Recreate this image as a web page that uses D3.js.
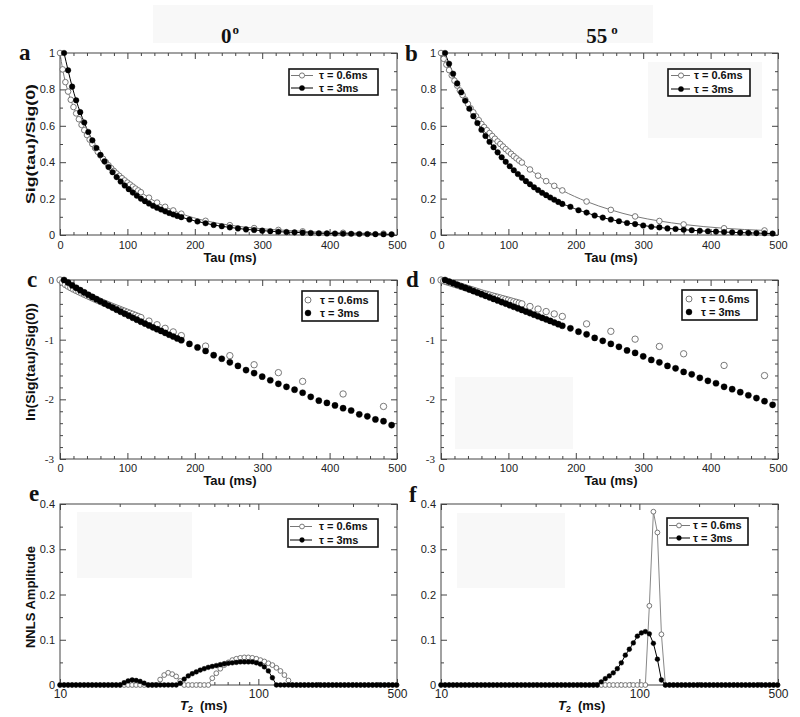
<!DOCTYPE html>
<html>
<head>
<meta charset="utf-8">
<script src="https://cdn.jsdelivr.net/npm/d3@7"></script>
<style>
  body { margin: 0; background: #fff; }
  svg { display: block; }
</style>
</head>
<body>
<script>
// echo times (ms) for the two inter-echo spacings
const tauOpen = [0,4,8,12,16,20,24,28,32,36,40,44,48,52,56,60,64,68,72,76,80,84,88,92,96,100,104,108,112,116,120,
  132,144,156,168,180,216,252,288,324,360,420,480];
const tauFilled = [6,12,18,24,30,36,42,48,54,60,66,72,78,84,90,96,102,108,114,120,126,132,138,144,150,156,162,168,174,180,
  192,204,216,228,240,252,264,276,288,300,312,324,336,348,360,372,384,396,408,420,432,444,456,468,480,492];

// Sig(tau)/Sig(0) at 0 degrees
const sig0Open = [1.0,0.91,0.84,0.788,0.743,0.703,0.668,0.636,0.605,0.576,0.549,0.524,0.5,0.478,0.457,0.437,0.418,0.4,0.383,0.367,
  0.352,0.338,0.325,0.312,0.3,0.288,0.277,0.266,0.255,0.245,0.235,
  0.205,0.178,0.155,0.135,0.117,0.078,0.054,0.038,0.028,0.020,0.0123,0.0076];
const sig0Filled = [1.0,0.905,0.815,0.74,0.675,0.618,0.566,0.52,0.478,0.44,0.405,0.374,0.345,0.318,0.294,0.272,0.252,0.233,0.216,0.2,
  0.186,0.173,0.161,0.15,0.14,0.13,0.121,0.113,0.105,0.098,
  0.085,0.074,0.0646,0.055,0.0479,0.0417,0.0363,0.0309,0.0275,0.024,0.0209,0.0182,0.0162,0.0145,0.0129,0.011,
  0.0095,0.0087,0.0079,0.0071,0.0065,0.0056,0.0052,0.0046,0.0043,0.0037];

// Sig(tau)/Sig(0) at 55 degrees
const sig55Open = [1.0,0.968,0.936,0.906,0.877,0.848,0.821,0.794,0.769,0.744,0.72,0.696,0.674,0.652,0.631,0.61,0.593,0.576,0.56,0.544,
  0.529,0.514,0.5,0.486,0.472,0.459,0.446,0.433,0.421,0.409,0.398,
  0.36,0.326,0.296,0.27,0.245,0.184,0.138,0.102,0.077,0.058,0.037,0.025];
const sig55Filled = [1.0,0.941,0.886,0.833,0.784,0.738,0.694,0.653,0.615,0.578,0.544,0.512,0.482,0.454,0.427,0.402,0.378,0.356,0.335,0.315,
  0.296,0.279,0.262,0.247,0.232,0.219,0.206,0.194,0.182,0.171,
  0.155,0.136,0.123,0.107,0.0955,0.085,0.0759,0.066,0.06,0.0525,0.0457,0.0417,0.0363,0.0331,0.0288,0.0263,
  0.0229,0.0204,0.0186,0.0162,0.0148,0.0132,0.0117,0.0105,0.0093,0.0081];

// NNLS T2 grid (ms)
const t2Grid = [10.0,10.48,10.98,11.5,12.04,12.62,13.22,13.85,14.51,15.2,
  15.92,16.68,17.48,18.31,19.18,20.09,21.05,22.05,23.1,24.2,
  25.35,26.56,27.83,29.15,30.54,31.99,33.52,35.11,36.78,38.53,
  40.37,42.29,44.31,46.42,48.63,50.94,53.37,55.91,58.57,61.36,
  64.28,67.34,70.55,73.91,77.43,81.11,84.98,89.02,93.26,97.7,
  102.4,107.2,112.3,117.7,123.3,129.2,135.3,141.8,148.5,155.6,
  163.0,170.7,178.9,187.4,196.3,205.7,215.5,225.7,236.5,247.7,
  259.5,271.9,284.8,298.4,312.6,327.5,343.1,359.4,376.5,394.4,
  413.2,432.9,453.5,475.1,497.7];

const nnls0Open = [0,0,0,0,0,0,0,0,0,0,
  0,0,0,0,0,0,0,0,0,0,
  0,0,0,0,0,0.012,0.022,0.027,0.024,0.019,
  0.009,0,0,0,0,0,0,0,0.015,0.026,
  0.036,0.044,0.05,0.055,0.058,0.06,0.061,0.061,0.06,0.058,
  0.055,0.052,0.048,0.044,0.038,0.031,0.022,0.01,0,0,
  0,0,0,0,0,0,0,0,0,0,
  0,0,0,0,0,0,0,0,0,0,
  0,0,0,0,0];
const nnls0Filled = [0,0,0,0,0,0,0,0,0,0,
  0,0,0,0,0,0,0.005,0.009,0.011,0.01,
  0.008,0.004,0,0,0,0,0,0,0,0,
  0.004,0.013,0.02,0.025,0.029,0.033,0.036,0.039,0.041,0.043,
  0.045,0.047,0.048,0.049,0.05,0.051,0.051,0.051,0.051,0.049,
  0.046,0.04,0.031,0.016,0,0,0,0,0,0,
  0,0,0,0,0,0,0,0,0,0,
  0,0,0,0,0,0,0,0,0,0,
  0,0,0,0,0];
const nnls55Open = [0,0,0,0,0,0,0,0,0,0,
  0,0,0,0,0,0,0,0,0,0,
  0,0,0,0,0,0,0,0,0,0,
  0,0,0,0,0,0,0,0,0,0,
  0,0,0,0,0,0,0,0,0,0,
  0,0,0.175,0.383,0.337,0.112,0,0,0,0,
  0,0,0,0,0,0,0,0,0,0,
  0,0,0,0,0,0,0,0,0,0,
  0,0,0,0,0];
const nnls55Filled = [0,0,0,0,0,0,0,0,0,0,
  0,0,0,0,0,0,0,0,0,0,
  0,0,0,0,0,0,0,0,0,0,
  0,0,0,0,0,0,0,0,0,0,
  0.007,0.014,0.02,0.027,0.036,0.049,0.066,0.079,0.093,0.108,
  0.115,0.118,0.113,0.092,0.057,0.011,0,0,0,0,
  0,0,0,0,0,0,0,0,0,0,
  0,0,0,0,0,0,0,0,0,0,
  0,0,0,0,0];

// tick labels
const tauTicks = [0, 100, 200, 300, 400, 500];
const sigTicks = [0, 0.2, 0.4, 0.6, 0.8, 1];
const lnTicks = [1, 0.1, 0.01, 0.001];
const lnTickLabels = ["0", "-1", "-2", "-3"];
const ampTicks = [0, 0.1, 0.2, 0.3, 0.4];
const t2Ticks = [10, 100, 500];
const legendLabels = ["\u03c4 = 0.6ms", "\u03c4 = 3ms"];

const sans = "'Liberation Sans', Arial, Helvetica, sans-serif";
const serif = "'Liberation Serif', 'Times New Roman', serif";

const svg = d3.select("body").append("svg")
  .attr("width", 800)
  .attr("height", 717);

// faint scan patches in the original
[[153, 5, 500, 38], [648, 62, 114, 76], [455, 377, 118, 72], [77, 512, 115, 66], [457, 513, 108, 75]]
  .forEach(p => svg.append("rect").attr("x", p[0]).attr("y", p[1]).attr("width", p[2]).attr("height", p[3]).attr("fill", "#f8f8f8"));

const cols = [{ x0: 60, x1: 397 }, { x0: 441, x1: 778 }];
const rows = [{ y0: 53, y1: 235 }, { y0: 280, y1: 459 }, { y0: 504, y1: 685 }];

// axes on all four sides, ticks pointing inward
function drawAxes(g, box, x, y, xt, yt) {
  const sides = [
    ["bottom", box.y1, x, xt, true],
    ["top", box.y0, x, xt, false],
    ["left", box.x0, y, yt, true],
    ["right", box.x1, y, yt, false]
  ];
  sides.forEach(([side, at, sc, t, lab]) => {
    const mk = { bottom: d3.axisBottom, top: d3.axisTop, left: d3.axisLeft, right: d3.axisRight }[side];
    const tr = (side === "bottom" || side === "top") ? `translate(0,${at})` : `translate(${at},0)`;
    const mi = g.append("g").attr("transform", tr)
      .call(mk(sc).tickValues(t.minor).tickSize(-3).tickFormat(""));
    mi.select(".domain").remove();
    mi.selectAll("line").attr("stroke", "#444");
    const ma = g.append("g").attr("transform", tr)
      .call(mk(sc).tickValues(t.major).tickSize(-6).tickPadding(t.pad).tickFormat(lab ? t.format : ""));
    ma.select(".domain").remove();
    ma.attr("font-family", t.font || sans).attr("font-size", t.size || 11);
    ma.selectAll("line").attr("stroke", "#444");
    ma.selectAll("text").attr("fill", "#222");
  });
  g.append("rect")
    .attr("x", box.x0).attr("y", box.y0)
    .attr("width", box.x1 - box.x0).attr("height", box.y1 - box.y0)
    .attr("fill", "none").attr("stroke", "#444").attr("stroke-width", 1);
}

function dots(g, xs, ys, x, y, r, open) {
  g.append("g").selectAll("circle")
    .data(d3.zip(xs, ys))
    .join("circle")
    .attr("cx", d => x(d[0]))
    .attr("cy", d => y(d[1]))
    .attr("r", r)
    .attr("fill", open ? "#fff" : "#000")
    .attr("stroke", open ? "#6a6a6a" : "#000")
    .attr("stroke-width", open ? 0.9 : 0.4);
}

function trace(g, xs, ys, x, y, color, curve) {
  g.append("path")
    .datum(d3.zip(xs, ys))
    .attr("fill", "none")
    .attr("stroke", color)
    .attr("stroke-width", 1)
    .attr("d", d3.line().x(d => x(d[0])).y(d => y(d[1])).curve(curve));
}

function legend(g, L, withLine, r) {
  g.append("rect").attr("x", L.x).attr("y", L.y).attr("width", L.w).attr("height", L.h)
    .attr("fill", "#fff").attr("stroke", "#111").attr("stroke-width", 1.6);
  legendLabels.forEach((lab, i) => {
    const cy = L.rows[i];
    const open = i === 0;
    if (withLine) {
      g.append("line").attr("x1", L.lx0).attr("x2", L.lx1).attr("y1", cy).attr("y2", cy)
        .attr("stroke", open ? "#777" : "#000").attr("stroke-width", 1);
    }
    g.append("circle").attr("cx", L.mx).attr("cy", cy).attr("r", r)
      .attr("fill", open ? "#fff" : "#000")
      .attr("stroke", open ? "#6a6a6a" : "#000").attr("stroke-width", open ? 0.9 : 0.4);
    g.append("text").attr("x", L.tx).attr("y", cy).attr("dy", "0.36em")
      .attr("font-family", sans).attr("font-size", 11).attr("font-weight", "bold").attr("fill", "#111")
      .text(lab);
  });
}

function xTitle(x, y, txt) {
  svg.append("text").attr("x", x).attr("y", y).attr("text-anchor", "middle")
    .attr("font-family", sans).attr("font-size", 13).attr("font-weight", "bold").attr("fill", "#111")
    .text(txt);
}

function t2Title(x, y) {
  const t = svg.append("text").attr("x", x).attr("y", y)
    .attr("font-family", sans).attr("font-size", 13).attr("font-weight", "bold").attr("fill", "#111");
  t.append("tspan").attr("font-style", "italic").text("T");
  t.append("tspan").attr("font-size", 9).attr("dy", 2).text("2");
  t.append("tspan").attr("dy", -2).attr("dx", 7).text("(ms)");
}

function yTitle(cx, cy, txt, len) {
  const t = svg.append("text")
    .attr("transform", `translate(${cx},${cy}) rotate(-90)`)
    .attr("text-anchor", "middle")
    .attr("font-family", sans).attr("font-size", 13).attr("font-weight", "bold").attr("fill", "#111")
    .text(txt);
  if (len) t.attr("textLength", len).attr("lengthAdjust", "spacingAndGlyphs");
}

function letter(x, y, ch) {
  svg.append("text").attr("x", x).attr("y", y)
    .attr("font-family", serif).attr("font-size", 23).attr("font-weight", "bold").attr("fill", "#111")
    .text(ch);
}

// tick sets
const tauMinor = d3.range(0, 501, 20).filter(v => v % 100 !== 0);
const tauAxis = { major: tauTicks, minor: tauMinor, format: d3.format("d"), pad: 6 };
const tauAxis2 = { major: tauTicks, minor: tauMinor, format: d3.format("d"), pad: 5 };
const sigAxis = { major: sigTicks, minor: [0.1, 0.3, 0.5, 0.7, 0.9], format: d => d === 0 || d === 1 ? String(d) : d.toFixed(1), pad: 5 };
const lnMinor = d3.range(0, 3.01, 0.2).filter(v => Math.abs(v - Math.round(v)) > 0.01).map(v => Math.pow(10, -v));
const lnAxis = { major: lnTicks, minor: lnMinor, format: (d, i) => lnTickLabels[i], pad: 6, font: serif, size: 11 };
const ampAxis = { major: ampTicks, minor: [0.05, 0.15, 0.25, 0.35], format: d => d === 0 ? "0" : d.toFixed(1), pad: 5 };
const t2Minor = [20, 30, 40, 50, 60, 70, 80, 90, 200, 300, 400];
const t2Axis = { major: t2Ticks, minor: t2Minor, format: d3.format("d"), pad: 4, size: 12 };

const panels = [
  { c: 0, r: 0, letter: "a", type: "sig", open: sig0Open, filled: sig0Filled,
    leg: { x: 289, y: 69, w: 89, h: 26, rows: [75.5, 88], lx0: 291, lx1: 313, mx: 302, tx: 319 } },
  { c: 1, r: 0, letter: "b", type: "sig", open: sig55Open, filled: sig55Filled,
    leg: { x: 668, y: 69, w: 82, h: 27, rows: [75.5, 89], lx0: 671, lx1: 690, mx: 681, tx: 694 } },
  { c: 0, r: 1, letter: "c", type: "ln", open: sig0Open, filled: sig0Filled,
    leg: { x: 302, y: 291, w: 76, h: 30, rows: [300, 313], mx: 308, tx: 320 } },
  { c: 1, r: 1, letter: "d", type: "ln", open: sig55Open, filled: sig55Filled,
    leg: { x: 682, y: 290, w: 75, h: 30, rows: [299, 312], mx: 689, tx: 701 } },
  { c: 0, r: 2, letter: "e", type: "nnls", open: nnls0Open, filled: nnls0Filled,
    leg: { x: 288, y: 519, w: 90, h: 28, rows: [526.5, 540], lx0: 290, lx1: 312, mx: 302, tx: 319 } },
  { c: 1, r: 2, letter: "f", type: "nnls", open: nnls55Open, filled: nnls55Filled,
    leg: { x: 667, y: 518, w: 81, h: 27, rows: [525.5, 538], lx0: 669, lx1: 690, mx: 679, tx: 693 } }
];

const letterPos = { a: [19, 60], b: [405, 61], c: [27, 287], d: [406, 287], e: [29, 501], f: [409, 502] };

panels.forEach(p => {
  const box = { x0: cols[p.c].x0, x1: cols[p.c].x1, y0: rows[p.r].y0, y1: rows[p.r].y1 };
  const g = svg.append("g");
  let x, y;
  if (p.type === "sig") {
    x = d3.scaleLinear().domain([0, 500]).range([box.x0, box.x1]);
    y = d3.scaleLinear().domain([0, 1]).range([box.y1, box.y0]);
    drawAxes(g, box, x, y, tauAxis, sigAxis);
    trace(g, tauOpen, p.open, x, y, "#7a7a7a", d3.curveMonotoneX);
    trace(g, tauFilled, p.filled, x, y, "#000", d3.curveMonotoneX);
    dots(g, tauOpen, p.open, x, y, 2.8, true);
    dots(g, tauFilled, p.filled, x, y, 2.8, false);
    legend(g, p.leg, true, 2.6);
  } else if (p.type === "ln") {
    x = d3.scaleLinear().domain([0, 500]).range([box.x0, box.x1]);
    y = d3.scaleLog().domain([1, 0.001]).range([box.y0, box.y1]);
    drawAxes(g, box, x, y, tauAxis2, lnAxis);
    dots(g, tauOpen, p.open, x, y, 3.2, true);
    dots(g, tauFilled, p.filled, x, y, 3.1, false);
    legend(g, p.leg, false, 3);
  } else {
    x = d3.scaleLog().domain([10, 500]).range([box.x0, box.x1]);
    y = d3.scaleLinear().domain([0, 0.4]).range([box.y1, box.y0]);
    drawAxes(g, box, x, y, t2Axis, ampAxis);
    trace(g, t2Grid, p.open, x, y, "#888", d3.curveLinear);
    trace(g, t2Grid, p.filled, x, y, "#000", d3.curveLinear);
    dots(g, t2Grid, p.open, x, y, 2.4, true);
    dots(g, t2Grid, p.filled, x, y, 2.4, false);
    legend(g, p.leg, true, 2.4);
  }
  letter(letterPos[p.letter][0], letterPos[p.letter][1], p.letter);
});

// column headers
function header(x, txt, gap) {
  const t = svg.append("text").attr("x", x).attr("y", 43).attr("text-anchor", "middle")
    .attr("font-family", serif).attr("font-size", 21).attr("font-weight", "bold").attr("fill", "#111");
  t.append("tspan").text(txt);
  t.append("tspan").attr("dx", gap).attr("dy", -9).attr("font-size", 13).text("o");
}
header(230, "0", 1);
header(602, "55", 4);

// axis titles
xTitle(230, 262, "Tau (ms)");
xTitle(611, 262, "Tau (ms)");
xTitle(230, 485, "Tau (ms)");
xTitle(611, 485, "Tau (ms)");
t2Title(180, 710);
t2Title(558, 710);
yTitle(35, 144, "Sig(tau)/Sig(0)", 120);
yTitle(35, 362, "ln(Sig(tau)/Sig(0))", 118);
yTitle(35, 597, "NNLS Amplitude");
</script>
